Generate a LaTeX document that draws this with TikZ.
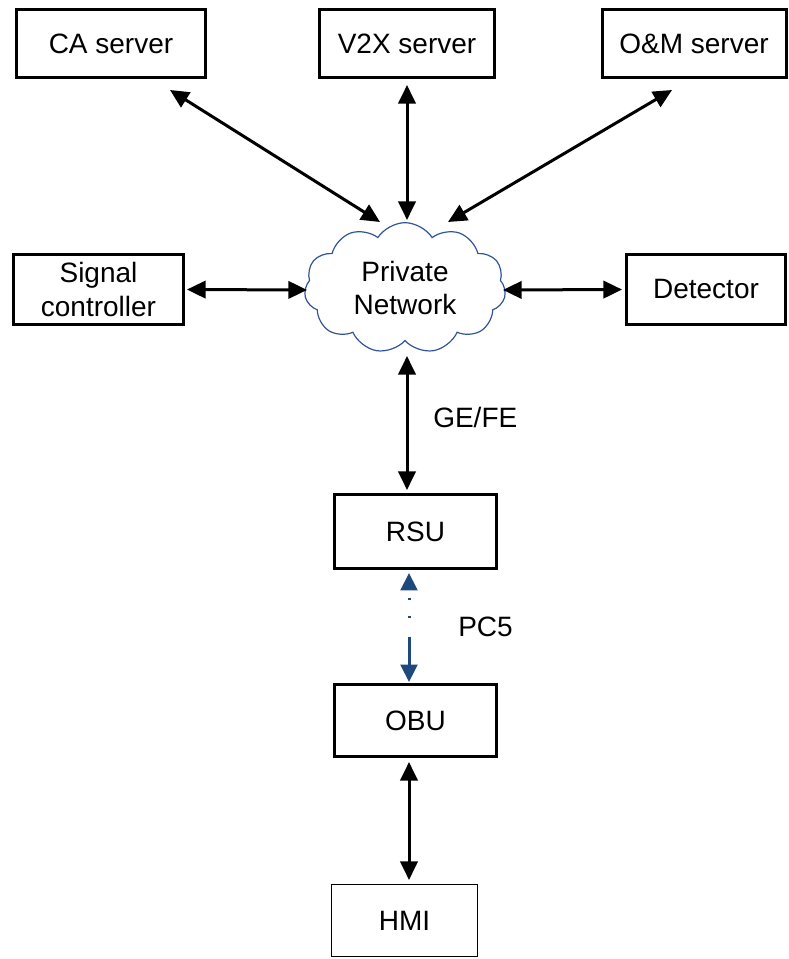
\documentclass[tikz,border=0pt]{standalone}
\usepackage{fontspec}
\setmainfont{Liberation Sans}
\usetikzlibrary{arrows.meta,shapes.symbols}
\definecolor{pcblue}{RGB}{31,73,125}
\definecolor{cloudblue}{RGB}{47,85,151}
\begin{document}
\begin{tikzpicture}[x=0.75pt,y=-0.75pt,
  every node/.style={font=\fontsize{21}{25}\selectfont},
  box/.style={draw,line width=2.25pt,inner sep=0pt,align=center},
  thinbox/.style={draw,line width=0.75pt,inner sep=0pt,align=center},
  tip/.style={Triangle[length=14pt,width=13pt]},
  conn/.style={line width=2.25pt,{Triangle[length=14pt,width=13pt]}-{Triangle[length=14pt,width=13pt]}},
  pcconn/.style={line width=2.25pt,pcblue,{Triangle[length=13pt,width=12.5pt]}-{Triangle[length=13pt,width=12.5pt]},
     dash pattern=on 0pt off 6pt on 1.6pt off 12pt on 1.6pt off 14pt on 60pt},
  lbl/.style={anchor=west,inner sep=0pt}]
\useasboundingbox (0,0) rectangle (788,959);
\node[box,minimum width=141.75pt,minimum height=51pt] (ca) at (111,43.5) {CA server};
\node[box,minimum width=131.25pt,minimum height=51pt] (v2x) at (407,43.5) {V2X server};
\node[box,minimum width=138pt,minimum height=51pt] (om) at (694,43.5) {O\&M server};
\node[box,minimum width=127.5pt,minimum height=52.5pt] (sig) at (98.5,289.5) {Signal\\controller};
\node[box,minimum width=119.25pt,minimum height=52.5pt] (det) at (706,289.5) {Detector};
\node[cloud,draw=cloudblue,line width=0.9pt,cloud puffs=11,cloud puff arc=115,cloud ignores aspect,
      minimum width=151pt,minimum height=98pt,align=center,inner sep=0pt] (cloud) at (405,288) {Private\\Network};
\node[box,minimum width=121.5pt,minimum height=55.5pt] (rsu) at (415.5,531.5) {RSU};
\node[box,minimum width=121.5pt,minimum height=54pt] (obu) at (415.5,720.5) {OBU};
\node[thinbox,minimum width=109.5pt,minimum height=54pt] (hmi) at (404.5,920.5) {HMI};

\draw[conn] ([shift={(59,11)}]ca.south) -- ([shift={(-25,-66)}]cloud.center);
\draw[conn] ([shift={(0,6)}]v2x.south) -- ([shift={(2,-68)}]cloud.center);
\draw[conn] ([shift={(-22,11)}]om.south) -- ([shift={(43,-66)}]cloud.center);
\draw[conn] ([shift={(2,0)}]sig.east) -- ([shift={(-98,2)}]cloud.center);
\draw[conn] ([shift={(98,2)}]cloud.center) -- ([shift={(-3,0)}]det.west);
\draw[conn] ([shift={(2,68)}]cloud.center) -- ([shift={(-8.5,-3)}]rsu.north);
\draw[pcconn] ([shift={(-6.5,3)}]rsu.south) -- ([shift={(-6.5,-1)}]obu.north);
\draw[conn] ([shift={(-6.5,4)}]obu.south) -- ([shift={(4.5,-4)}]hmi.north);

\node[lbl] (gefe) at (433,417) {GE/FE};
\node[lbl] (pc5) at (458,627) {PC5};
\end{tikzpicture}
\end{document}
